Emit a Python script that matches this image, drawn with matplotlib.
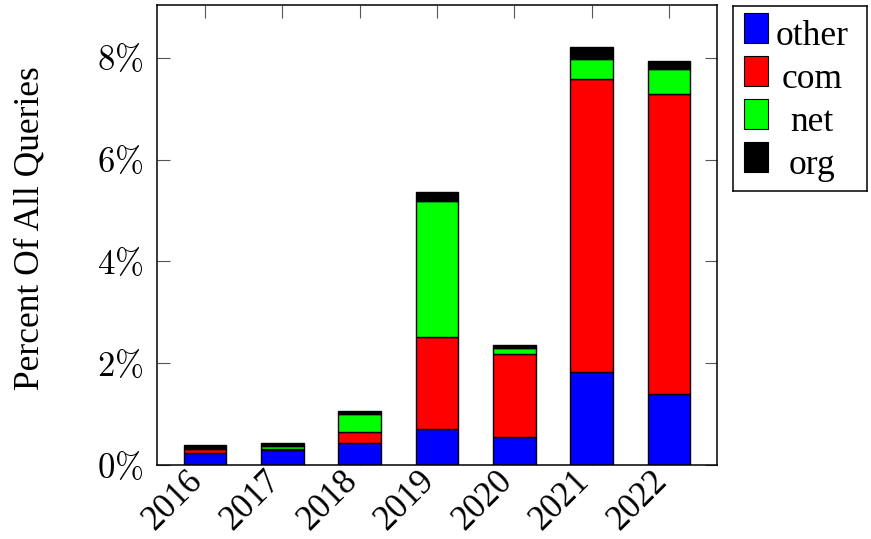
import matplotlib.pyplot as plt
from matplotlib.patches import Rectangle
from matplotlib.transforms import ScaledTranslation
import numpy as np

plt.rcParams['font.family'] = ['Liberation Serif', 'DejaVu Serif']
plt.rcParams['mathtext.fontset'] = 'cm'

# share of all queries (%) per year, split by TLD
years = [2016, 2017, 2018, 2019, 2020, 2021, 2022]
other = [0.24, 0.29, 0.43, 0.70, 0.56, 1.83, 1.39]
com = [0.08, 0.03, 0.22, 1.82, 1.62, 5.75, 5.90]
net = [0.01, 0.06, 0.35, 2.67, 0.11, 0.39, 0.50]
org = [0.06, 0.05, 0.06, 0.18, 0.07, 0.25, 0.15]

series = [("other", other, "#0000ff"),
          ("com", com, "#ff0000"),
          ("net", net, "#00ff00"),
          ("org", org, "#000000")]

W, H = 871, 539
fig = plt.figure(figsize=(W / 100, H / 100), dpi=100)
ax = fig.add_axes([157 / W, 1 - 465 / H, (717 - 157) / W, (465 - 5) / H])

bottom = np.zeros(len(years))
for name, vals, col in series:
    ax.bar(years, vals, width=0.55, bottom=bottom, color=col,
           edgecolor="black", linewidth=1.0, label=name, zorder=2)
    bottom += np.array(vals)

ax.set_xlim(2015.38, 2022.62)
ax.set_ylim(0, 9.04)
ax.set_xticks(years)
ax.set_xticklabels([str(y) for y in years], rotation=45, ha="right",
                   va="center", rotation_mode="anchor", fontsize=23)
ax.set_yticks([0, 2, 4, 6, 8])
ax.set_yticklabels([rf"$%d\%%$" % v for v in [0, 2, 4, 6, 8]])

ax.tick_params(axis="both", direction="in", length=9, width=0.8,
               color="#555555", labelsize=25, top=True, right=True)
ax.tick_params(axis="x", pad=8)
ax.tick_params(axis="y", pad=10)
for s in ax.spines.values():
    s.set_linewidth(1.1)

# nudge the rotated year labels slightly left of the bar centres
shift = ScaledTranslation(-7 / 100, 0, fig.dpi_scale_trans)
for lbl in ax.get_xticklabels():
    lbl.set_transform(lbl.get_transform() + shift)

fig.text(30 / W, 1 - 228 / H, "Percent Of All Queries", rotation=90,
         ha="center", va="center", fontsize=25.5)

# legend box to the right of the axes
lax = fig.add_axes([733 / W, 1 - 191 / H, (867 - 733) / W, (191 - 6) / H])
lax.set_xlim(0, 134)
lax.set_ylim(185, 0)
lax.set_xticks([])
lax.set_yticks([])
for s in lax.spines.values():
    s.set_linewidth(1.1)
for i, (name, vals, col) in enumerate(series):
    top = 7 + i * 43
    lax.add_patch(Rectangle((11, top), 24, 30, facecolor=col,
                            edgecolor="black", linewidth=0.8))
    lax.text(79, top + 32, name, ha="center", va="baseline", fontsize=25.5)

fig.savefig("out.png", dpi=100, facecolor="white")
